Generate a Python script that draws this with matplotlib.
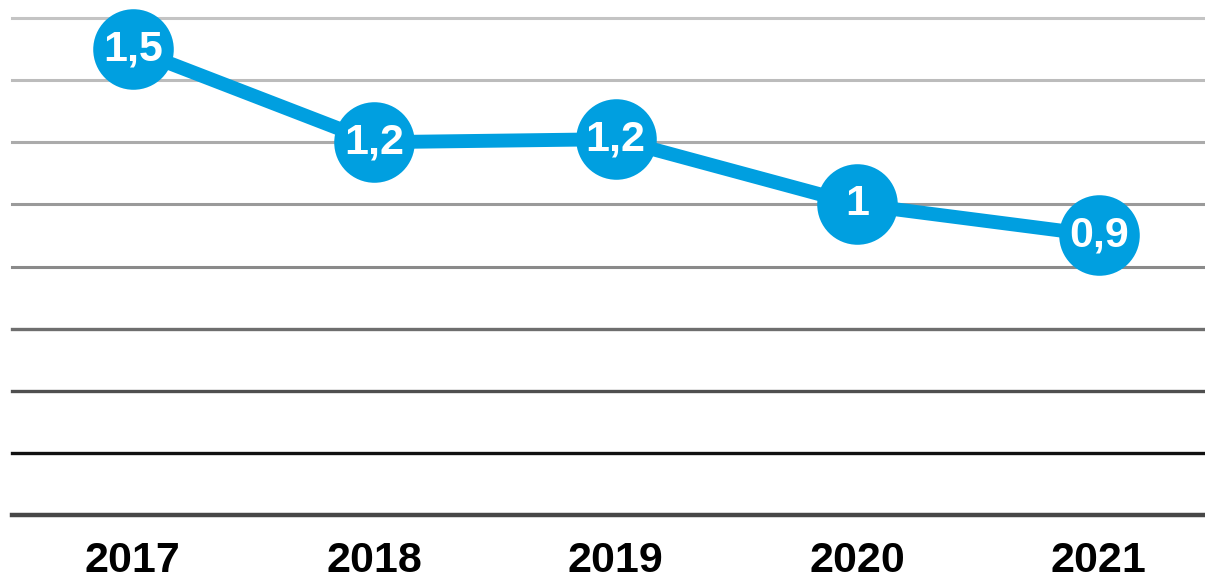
import matplotlib.pyplot as plt

# Data
years = ["2017", "2018", "2019", "2020", "2021"]
values = [1.5, 1.2, 1.21, 1.0, 0.9]
labels = ["1,5", "1,2", "1,2", "1", "0,9"]

# gridlines from 0 to 1.6, lighter at the top
grid_levels = [0, 0.2, 0.4, 0.6, 0.8, 1.0, 1.2, 1.4, 1.6]
grid_colors = ["#474747", "#111111", "#4f4f4f", "#6e6e6e", "#8a8a8a",
               "#9a9a9a", "#ababab", "#bcbcbc", "#c4c4c4"]
grid_widths = [3.2, 2.4, 2.4, 2.4, 2.2, 2.2, 2.2, 2.2, 2.2]

blue = "#009fe0"

fig = plt.figure(figsize=(12.05, 5.86), dpi=100)
ax = fig.add_axes([12 / 1205, 71 / 586, 1193 / 1205, 497 / 586])

for lvl, c, w in zip(grid_levels, grid_colors, grid_widths):
    ax.axhline(lvl, color=c, linewidth=w, zorder=1, clip_on=False)

x = list(range(len(years)))
ax.plot(x, values, color=blue, linewidth=10, zorder=2,
        solid_capstyle="round")
ax.plot(x, values, "o", color=blue, markersize=58, zorder=3,
        markeredgewidth=0, clip_on=False)

for xi, v, lab in zip(x, values, labels):
    ax.text(xi, v, lab, color="white", fontsize=31, fontweight="bold",
            family="Liberation Sans", ha="center", va="center", zorder=4)

ax.set_xlim(-0.5, 4.44)
ax.set_ylim(0, 1.6)
ax.set_xticks(x)
ax.set_xticklabels(years, fontsize=31, fontweight="bold",
                   family="Liberation Sans")
ax.tick_params(axis="x", length=0, pad=19)
ax.set_yticks([])
for s in ax.spines.values():
    s.set_visible(False)

fig.savefig("out.png", dpi=100)
